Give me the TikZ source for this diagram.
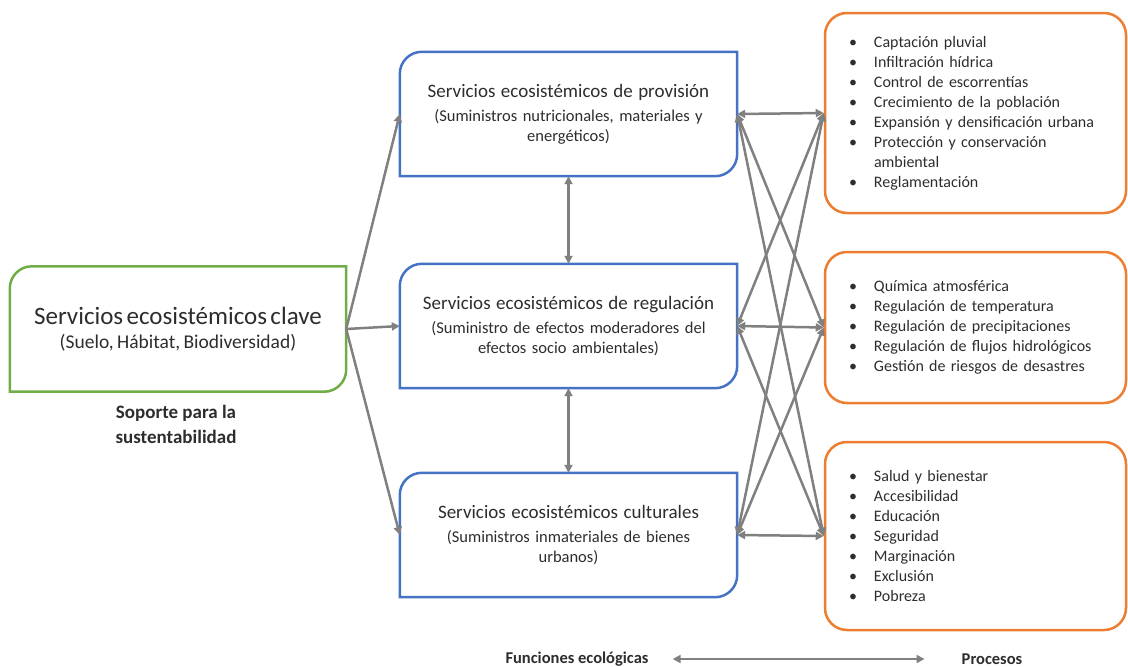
\documentclass[tikz,border=0pt]{standalone}
\usepackage{fontspec}
\setmainfont{Carlito}
\usetikzlibrary{arrows.meta}
\definecolor{clavegreen}{RGB}{112,173,71}
\definecolor{servblue}{RGB}{68,114,196}
\definecolor{procorange}{RGB}{237,125,49}
\definecolor{linkgray}{RGB}{128,128,128}
\definecolor{txtgray}{RGB}{45,45,45}
\newcommand{\diagframe}[3]{\draw[#2, line width=2.5pt] ([xshift=#3]#1.north west) -- (#1.north east) -- ([yshift=#3]#1.south east) .. controls ([yshift=0.45*#3]#1.south east) and ([xshift=-0.45*#3]#1.south east) .. ([xshift=-#3]#1.south east) -- (#1.south west) -- ([yshift=-#3]#1.north west) .. controls ([yshift=-0.45*#3]#1.north west) and ([xshift=0.45*#3]#1.north west) .. ([xshift=#3]#1.north west) -- cycle;}
\newcommand{\bul}{\makebox[25pt][l]{\textbullet}}
\newcommand{\nobul}{\makebox[25pt][l]{}}
\tikzset{
  clavebox/.style={minimum width=336pt, minimum height=125pt, text width=330pt, align=center, inner sep=0pt, text=txtgray},
  servbox/.style={minimum width=337pt, minimum height=124pt, text width=330pt, align=center, inner sep=0pt, text=txtgray, font=\fontsize{16.5pt}{20pt}\selectfont},
  procbox/.style={draw=procorange, line width=2.5pt, rounded corners=22pt, minimum width=301pt, text width=253pt, inner xsep=24pt, inner ysep=0pt, align=left, text=txtgray, font=\fontsize{16pt}{20pt}\selectfont},
  flecha/.style={linkgray, line width=2.5pt, -{Triangle[length=8pt,width=8pt]}},
  enlace/.style={linkgray, line width=2.5pt, {Triangle[length=8pt,width=8pt]}-{Triangle[length=8pt,width=8pt]}},
  rotulo/.style={text=txtgray, align=center, inner sep=0pt}
}
\begin{document}
\begin{tikzpicture}[x=1pt, y=-1pt]
\useasboundingbox (0,0) rectangle (1128,667);
\node[clavebox] (clave) at (178,329) {{\fontsize{25pt}{28pt}\selectfont Servicios ecosistémicos clave}\\[9pt] \fontsize{19.5pt}{22pt}\selectfont (Suelo, Hábitat, Biodiversidad)};
\diagframe{clave}{clavegreen}{22pt}
\node[rotulo, font=\bfseries\fontsize{19pt}{25pt}\selectfont] (soporte) at (176,424) {Soporte para la\\sustentabilidad};

\node[servbox] (prov) at (568.5,114) {{\fontsize{19pt}{22pt}\selectfont Servicios ecosistémicos de provisión}\\[4pt] (Suministros nutricionales, materiales y\\ energéticos)};
\node[servbox] (regu) at (568.5,326) {{\fontsize{19pt}{22pt}\selectfont Servicios ecosistémicos de regulación}\\[4pt] (Suministro de efectos moderadores del\\ efectos socio ambientales)};
\node[servbox] (cult) at (568.5,535) {{\fontsize{19pt}{22pt}\selectfont Servicios ecosistémicos culturales}\\[4pt] (Suministros inmateriales de bienes\\ urbanos)};
\diagframe{prov}{servblue}{22pt}
\diagframe{regu}{servblue}{22pt}
\diagframe{cult}{servblue}{22pt}

\node[procbox, minimum height=200pt] (pa) at (975.5,113) {\bul Captación pluvial\\ \bul Infiltración hídrica\\ \bul Control de escorrentías\\ \bul Crecimiento de la población\\ \bul Expansión y densificación urbana\\ \bul Protección y conservación\\ \nobul ambiental\\ \bul Reglamentación};
\node[procbox, minimum height=151pt] (pb) at (975.5,327.5) {\bul Química atmosférica\\ \bul Regulación de temperatura\\ \bul Regulación de precipitaciones\\ \bul Regulación de flujos hidrológicos\\ \bul Gestión de riesgos de desastres};
\node[procbox, minimum height=188pt] (pc) at (975.5,536) {\bul Salud y bienestar\\ \bul Accesibilidad\\ \bul Educación\\ \bul Seguridad\\ \bul Marginación\\ \bul Exclusión\\ \bul Pobreza};

\draw[flecha] (clave.east) -- (prov.west);
\draw[flecha] (clave.east) -- (regu.west);
\draw[flecha] (clave.east) -- (cult.west);
\draw[enlace] (prov.south) -- (regu.north);
\draw[enlace] (regu.south) -- (cult.north);
\foreach \s in {prov,regu,cult}
  \foreach \p in {pa,pb,pc}
    \draw[enlace] (\s.east) -- (\p.west);

\node[rotulo, font=\bfseries\fontsize{16.5pt}{18pt}\selectfont] (func) at (577,659) {Funciones ecológicas};
\node[rotulo, font=\bfseries\fontsize{16.5pt}{18pt}\selectfont] (proc) at (992,659) {Procesos};
\draw[enlace] ([xshift=24pt]func.east) -- ([xshift=-37pt]proc.west);
\end{tikzpicture}
\end{document}
